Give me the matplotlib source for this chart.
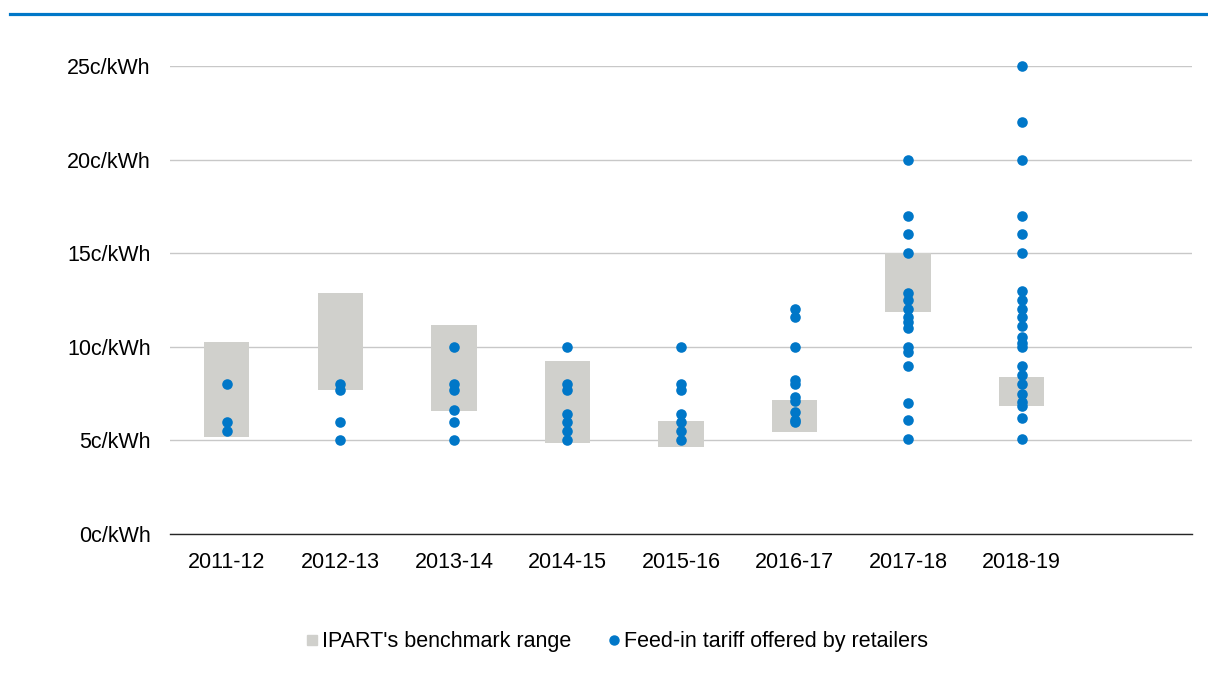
import matplotlib
matplotlib.use("Agg")
import matplotlib.pyplot as plt
from matplotlib.lines import Line2D

plt.rcParams['font.family'] = ['Liberation Sans', 'DejaVu Sans']

years = ["2011-12", "2012-13", "2013-14", "2014-15", "2015-16", "2016-17", "2017-18", "2018-19"]
bench_low = [5.2, 7.67, 6.59, 4.88, 4.67, 5.47, 11.86, 6.86]
bench_high = [10.26, 12.86, 11.16, 9.24, 6.05, 7.16, 15.0, 8.37]

fit_2011 = [8, 6, 5.5]
fit_2012 = [8, 7.67, 6, 5]
fit_2013 = [10, 8, 7.67, 6.6, 6, 5]
fit_2014 = [10, 8, 7.7, 6.4, 6, 5.5, 5]
fit_2015 = [10, 8, 7.7, 6.4, 6, 5.5, 5]
fit_2016 = [12, 11.6, 10, 8.2, 8, 7.3, 7.1, 6.5, 6.1, 6]
fit_2017 = [20, 17, 16, 15, 12.86, 12.5, 12.0, 11.6, 11.3, 11.0, 10, 9.7, 9, 7, 6.1, 5.1]
fit_2018 = [25, 22, 20, 17, 16, 15, 13.0, 12.5, 12.0, 11.6, 11.1, 10.5, 10.2, 10, 9, 8.5, 8.0, 7.5, 7.07, 6.84, 6.2, 5.1]
fit_all = [fit_2011, fit_2012, fit_2013, fit_2014, fit_2015, fit_2016, fit_2017, fit_2018]

yticks = [0, 5, 10, 15, 20, 25]
ytick_labels = [f"{v}c/kWh" for v in yticks]

BLUE = "#0077C8"
GREY = "#D0D0CC"

fig = plt.figure(figsize=(12.08, 6.84), dpi=100)
ax = fig.add_axes([170/1208, 150/684, (1192-170)/1208, 468/684])

xs = list(range(len(years)))
ax.bar(xs, [h - l for h, l in zip(bench_high, bench_low)], bottom=bench_low,
       width=0.4, color=GREY, zorder=2)
for i, vals in enumerate(fit_all):
    ax.scatter([i]*len(vals), vals, s=58, color=BLUE, zorder=3, clip_on=False, linewidths=0)

ax.set_xlim(-0.5, 8.5)
ax.set_ylim(0, 25)
ax.set_yticks(yticks)
ax.set_yticklabels(ytick_labels)
ax.set_xticks(xs)
ax.set_xticklabels(years)
ax.tick_params(axis='both', length=0, labelsize=15.5, colors='#000000')
ax.tick_params(axis='y', pad=14)
ax.tick_params(axis='x', pad=13)
ax.yaxis.grid(True, color='#C8C8C8', linewidth=1.0, zorder=0)
ax.set_axisbelow(True)
for s in ['top', 'right', 'left']:
    ax.spines[s].set_visible(False)
ax.spines['bottom'].set_color('#262626')
ax.spines['bottom'].set_linewidth(1.0)

handles = [
    Line2D([], [], marker='s', linestyle='none', color=GREY, markersize=7.5),
    Line2D([], [], marker='o', linestyle='none', color=BLUE, markersize=6.5),
]
fig.legend(handles, ["IPART's benchmark range", "Feed-in tariff offered by retailers"],
           loc='center', bbox_to_anchor=(616/1208, 1 - 642/684), ncol=2, frameon=False,
           fontsize=15.5, handletextpad=0.05, columnspacing=1.6, handlelength=0.8)

fig.add_artist(Line2D([10/1208, 1.0], [1 - 13.5/684, 1 - 13.5/684], color=BLUE, linewidth=2.3))

fig.savefig("out.png", dpi=100)
